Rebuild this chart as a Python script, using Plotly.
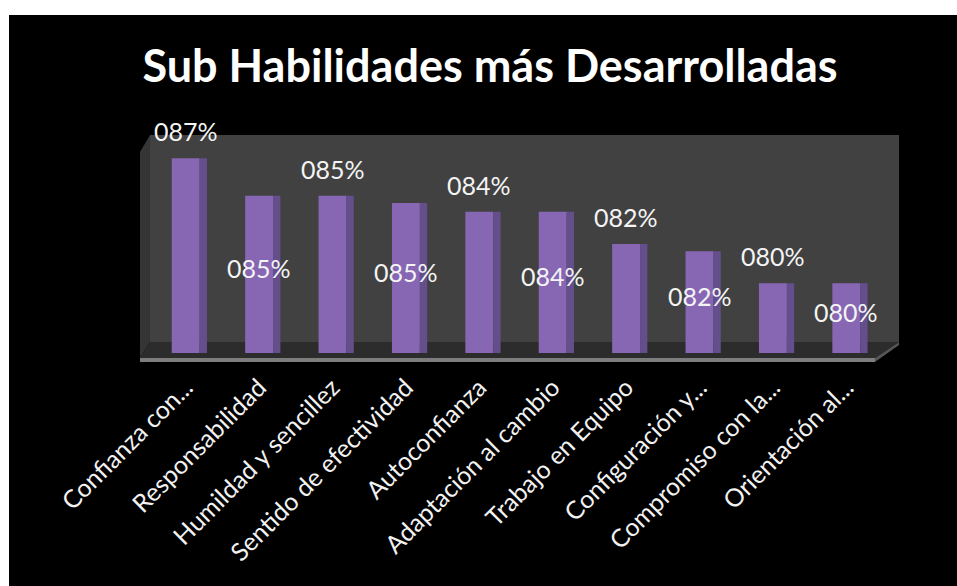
import plotly.graph_objects as go

categories = ["Confianza con...", "Responsabilidad", "Humildad y sencillez",
              "Sentido de efectividad", "Autoconfianza", "Adaptación al cambio",
              "Trabajo en Equipo", "Configuración y...", "Compromiso con la...",
              "Orientación al..."]
values = [0.871, 0.850, 0.850, 0.846, 0.841, 0.841, 0.823, 0.819, 0.801, 0.801]
label_above = [True, False, True, False, True, False, True, False, True, False]
title_text = "Sub Habilidades más Desarrolladas"

labels = [f"{round(v * 100):03d}%" for v in values]

W, H = 957, 586
L, R, T, B = 149, 883, 135, 353
Y_MIN, Y_MAX = 0.762, 0.884


def px(x):
    return (x - L) / (R - L)


def py(y):
    return (B - y) / (B - T)


def poly(points, color):
    d = "M " + " L ".join(f"{px(x):.5f},{py(y):.5f}" for x, y in points) + " Z"
    return dict(type="path", xref="paper", yref="paper", path=d,
                fillcolor=color, line=dict(width=0), layer="below")


FRONT = "#8767b4"
SIDE = "#654e8c"
LABEL_FONT = dict(family="Lato", size=25, color="#f4f4f4")

fig = go.Figure()
fig.add_trace(go.Bar(
    x=categories, y=values, width=0.38, offset=-0.19,
    marker=dict(color=FRONT, line=dict(width=0)),
    hoverinfo="skip", showlegend=False,
))
fig.add_trace(go.Bar(
    x=categories, y=values, width=0.1, offset=0.19,
    marker=dict(color=SIDE, line=dict(width=0)),
    hoverinfo="skip", showlegend=False,
))

annotations = []
for c, v, t, a in zip(categories, values, labels, label_above):
    if a:
        annotations.append(dict(x=c, y=v, xref="x", yref="y", text=t,
                                showarrow=False, yanchor="middle", yshift=27,
                                font=LABEL_FONT))
    else:
        annotations.append(dict(x=c, y=(v + Y_MIN) / 2, xref="x", yref="y", text=t,
                                showarrow=False, yanchor="middle", yshift=6,
                                font=LABEL_FONT))

shapes = [
    dict(type="rect", xref="paper", yref="paper", x0=px(9), x1=px(W + 5),
         y0=py(H + 5), y1=py(15), fillcolor="black", line=dict(width=0), layer="below"),
    poly([(140, 152), (150, 135), (150, 342), (140, 358)], "#353535"),
    poly([(150, 135), (899, 135), (899, 342), (150, 342)], "#414141"),
    poly([(140, 358), (875, 358), (899, 342), (150, 342)], "#2c2c2c"),
    poly([(140, 358), (875, 358), (875, 362), (140, 362)], "#7d7d7d"),
    poly([(875, 358), (899, 342), (899, 345), (875, 362)], "#555555"),
]

fig.update_layout(
    width=W, height=H,
    margin=dict(l=L, r=W - R, t=T, b=H - B, pad=0),
    paper_bgcolor="white", plot_bgcolor="rgba(0,0,0,0)",
    barmode="overlay",
    title=dict(text=title_text, x=490 / W, xanchor="center", xref="container",
               y=1 - 66 / H, yanchor="middle", yref="container",
               font=dict(family="Lato", size=45, color="white", weight="bold")),
    xaxis=dict(range=[-0.5, 9.5], tickangle=-45, showgrid=False, zeroline=False,
               showline=False, ticks="", ticklabelstandoff=14,
               tickfont=dict(family="Lato", size=25, color="#f2f2f2")),
    yaxis=dict(range=[Y_MIN, Y_MAX], showgrid=False, zeroline=False,
               showline=False, showticklabels=False, ticks=""),
    shapes=shapes, annotations=annotations,
)

fig.write_html("out.html")
